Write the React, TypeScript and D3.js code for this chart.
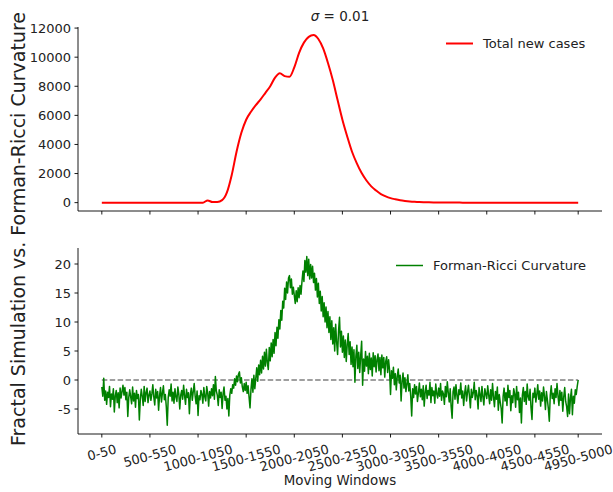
import React from "react";
import * as d3 from "d3";

const W = 613;
const H = 492;
const FONT = "DejaVu Sans, Verdana, sans-serif";
const INK = "#222";

// moving windows: index i covers [10i, 10i + 50]
const windowTicks = [0, 50, 100, 150, 200, 250, 300, 350, 400, 450, 495];
const windowLabel = (i: number) => `${i * 10}-${i * 10 + 50}`;

const caseTicks = [0, 2000, 4000, 6000, 8000, 10000, 12000];
const curvTicks = [-5, 0, 5, 10, 15, 20];

// total new cases, read every 5th window
const caseStep = 5;
const newCases = [
  0, 0, 0, 0, 0, 0, 0, 0, 0, 0, 0, 0, 0, 0, 0, 0, 0, 0, 0, 0, 0, 0,
  150, 40, 45, 170, 700, 1900, 3500, 4800, 5700, 6250, 6700, 7100, 7550, 8000,
  8600, 8900, 8700, 8650, 9300, 10300, 11000, 11400, 11520, 11250, 10600, 9600,
  8430, 7050, 5700, 4550, 3500, 2700, 2030, 1520, 1120, 830, 590, 430, 310, 230,
  165, 120, 85, 60, 42, 30, 20, 14, 10, 7, 5, 3, 2,
  0, 0, 0, 0, 0, 0, 0, 0, 0, 0, 0, 0, 0, 0, 0, 0, 0, 0, 0, 0, 0, 0, 0, 0, 0,
];

// Forman-Ricci curvature, one value per window
const curvA = [
  -1.2, -2.8, 0.3, -3.5, -1.9, -4.2, -2.1, -3.0, -1.1, -4.6,
  -2.4, -3.3, -1.5, -5.5, -2.7, -1.8, -3.9, -2.2, -4.8, -1.4,
  -3.1, -2.0, -0.9, -2.6, -1.3, -3.4, -2.1, -6.3, -3.0, -1.7,
  -2.9, -4.1, -1.2, -3.6, -2.3, -4.7, -1.8, -3.2, -2.5, -6.9,
  -3.3, -1.6, -2.8, -4.4, -1.1, -3.7, -2.2, -1.4, -3.9, -2.6,
];
const curvB = [
  -1.9, -3.5, -2.4, -0.8, -2.9, -4.3, -1.6, -3.1, -2.0, -5.2,
  -2.7, -1.3, -3.8, -2.2, -1.0, -3.4, -2.5, -4.6, -7.8, -3.0,
  -1.7, -2.8, -0.7, -3.6, -2.1, -4.0, -1.5, -2.9, -3.7, -1.2,
  -2.4, -5.0, -2.6, -1.8, -3.3, -0.9, -2.7, -4.2, -1.6, -3.0,
  -2.2, -5.8, -2.5, -1.4, -3.5, -2.0, -0.6, -2.8, -4.1, -1.9,
];
const curvC = [
  -6.1, -2.7, -3.4, -1.8, -2.5, -4.0, -1.3, -2.9, -3.6, -1.1,
  -2.2, -4.5, -2.0, -3.1, -1.5, -2.7, -0.8, -3.3, 0.6, -1.9,
  -2.6, -4.4, -1.7, -3.0, -2.1, -4.9, -2.4, -1.2, -3.5, -2.8,
  -5.0, -3.2, -6.2, -2.6, -1.5, -2.3, -0.8, -1.4, 0.2, -0.9,
  0.7, -0.3, 1.0, 1.4, -0.5, 0.4, -1.2, -2.0, -0.6, -1.8,
];
const curvD = [
  -0.4, -2.3, -1.0, -2.9, -4.8, -1.6, 0.2, -2.1, 0.8, -1.5,
  0.3, 2.1, -0.2, 2.6, 0.9, 3.4, 1.2, 4.1, 1.9, 4.8,
  2.4, 5.3, 3.0, 1.8, 5.6, 3.3, 6.4, 4.0, 7.0, 4.6,
  8.2, 5.9, 9.1, 7.2, 10.4, 8.8, 12.0, 10.3, 13.6, 12.4,
  15.8, 13.9, 16.9, 15.0, 17.6, 18.0, 15.9, 17.4, 14.8, 16.0,
];
const curvE = [
  14.6, 13.2, 15.4, 13.5, 15.9, 14.2, 16.3, 14.8, 17.0, 18.8,
  17.0, 20.6, 18.6, 21.3, 18.0, 20.8, 17.4, 19.9, 17.6, 19.6,
  16.8, 18.4, 15.5, 17.5, 14.3, 16.7, 13.2, 15.3, 11.9, 14.4,
  10.9, 13.3, 10.0, 12.6, 9.0, 11.8, 8.2, 10.9, 7.0, 10.2,
  6.2, 9.0, 5.0, 9.6, 6.5, 4.4, 8.5, 10.8, 5.7, 8.4,
];
const curvF = [
  4.8, 7.6, 3.9, 6.9, 3.2, 6.1, 8.0, 4.4, 6.6, 2.7,
  5.7, 2.3, 5.2, -0.4, 4.1, 6.0, 2.0, 4.8, 1.3, 4.2,
  6.7, -0.9, 3.6, 1.5, 4.9, 2.4, 4.1, 1.1, 4.6, 1.8,
  3.8, 0.7, 4.7, 2.3, 4.2, 1.4, 3.5, 4.5, 1.6, 3.9,
  0.9, 4.3, 2.1, 3.9, 0.5, 3.2, 4.0, 1.3, 3.5, 1.7,
];
const curvG = [
  -2.5, 1.6, 0.3, 2.2, -0.8, 1.1, -1.7, 0.6, 1.9, -0.5,
  0.8, -3.6, -0.2, 1.2, -1.4, 0.4, -2.0, -0.7, 0.9, -1.9,
  -0.6, -2.8, -6.2, -1.5, -3.0, -0.8, -2.4, -1.1, -3.7, -2.2,
  -0.5, -2.9, -1.6, -3.4, -1.0, -4.5, -2.1, -0.9, -3.2, -1.8,
  -2.6, -0.4, -3.9, -1.3, -2.7, -1.9, -4.0, -0.7, -2.4, -3.1,
];
const curvH = [
  -1.4, -2.8, -0.6, -3.5, -1.9, -2.4, -4.2, -1.1, -2.9, -0.3,
  -2.2, -3.8, -1.5, -4.6, -6.6, -2.0, -1.2, -3.3, -0.8, -2.6,
  -4.0, -1.7, -2.5, -0.5, -3.1, -1.9, -4.4, -2.3, -1.0, -3.6,
  -2.1, -0.9, -2.8, -4.8, -1.6, -3.0, -2.2, -0.4, -3.4, -1.8,
  -2.7, -5.0, -1.3, -2.5, -3.7, -1.1, -2.9, -4.3, -1.5, -2.4,
];
const curvI = [
  -3.2, -1.0, -2.6, -4.1, -1.7, -3.5, -0.6, -2.9, -4.6, -2.0,
  -3.3, -1.2, -5.2, -2.5, -3.8, -4.9, -7.4, -2.8, -1.4, -3.6,
  -2.2, -4.4, -0.9, -3.0, -1.8, -5.3, -2.7, -3.9, -1.5, -2.4,
  -4.7, -1.1, -3.4, -2.1, -5.6, -3.1, -7.4, -2.6, -1.3, -3.7,
  -2.0, -4.2, -0.7, -2.9, -3.5, -1.6, -4.8, -6.8, -2.3, -3.0,
];
const curvJ = [
  -1.4, -3.8, -2.5, -0.8, -3.3, -1.9, -4.5, -2.2, -3.6, -1.2,
  -2.8, -5.1, -2.0, -3.4, -4.9, -7.1, -2.6, -1.0, -3.2, -2.3,
  -4.1, -1.5, -3.0, -0.6, -2.7, -4.4, -1.8, -3.5, -2.1, -5.4,
  -2.9, -1.3, -3.7, -4.6, -6.3, -2.4, -5.8, -3.1, -1.6, -6.0,
  -2.8, -4.0, -1.7, -2.5, -1.1, 0.0,
];
const curvature = [
  ...curvA, ...curvB, ...curvC, ...curvD, ...curvE,
  ...curvF, ...curvG, ...curvH, ...curvI, ...curvJ,
];

const TICK_FS = 13;
// rough DejaVu Sans advance widths for the tick label glyphs
const labelWidth = (s: string) =>
  s.split("").reduce((w, c) => w + (c === "-" ? 0.361 : 0.636), 0) * TICK_FS;

export default function App() {
  const x = d3.scaleLinear().domain([-24.75, 519.75]).range([78, 602]);
  const yTop = d3.scaleLinear().domain([-575, 12075]).range([211, 27]);
  const yBot = d3.scaleLinear().domain([-9.31, 22.76]).range([434, 248]);

  const caseLine = d3
    .line<number>()
    .x((_, i) => x(i * caseStep))
    .y((d) => yTop(d))
    .curve(d3.curveMonotoneX);
  const curvLine = d3
    .line<number>()
    .x((_, i) => x(i))
    .y((d) => yBot(d));

  const [x0, x1] = x.range();
  const rot = (15 * Math.PI) / 180;

  const yAxis = (scale: d3.ScaleLinear<number, number>, ticks: number[]) => {
    const [b, t] = scale.range();
    return (
      <g>
        <line x1={x0} x2={x0} y1={b} y2={t} stroke="#000" strokeWidth={0.9} />
        {ticks.map((v) => (
          <g key={v} transform={`translate(${x0},${scale(v)})`}>
            <line x2={-3.5} stroke="#000" strokeWidth={0.9} />
            <text x={-7} dy="0.35em" textAnchor="end" fontSize={TICK_FS} fill={INK}>
              {v}
            </text>
          </g>
        ))}
      </g>
    );
  };

  const xAxis = (yPos: number, labels: boolean) => (
    <g>
      <line x1={x0} x2={x1} y1={yPos} y2={yPos} stroke="#000" strokeWidth={0.9} />
      {windowTicks.map((t) => {
        const s = windowLabel(t);
        const w = labelWidth(s);
        const h = w * Math.sin(rot) + TICK_FS * 1.16 * Math.cos(rot);
        return (
          <g key={t}>
            <line x1={x(t)} x2={x(t)} y1={yPos} y2={yPos + 3.5} stroke="#000" strokeWidth={0.9} />
            {labels && (
              <text
                transform={`translate(${x(t)},${yPos + 7.5 + h / 2}) rotate(-15)`}
                textAnchor="middle"
                dy="0.35em"
                fontSize={TICK_FS}
                fill={INK}
              >
                {s}
              </text>
            )}
          </g>
        );
      })}
    </g>
  );

  return (
    <svg
      width={W}
      height={H}
      style={{ position: "absolute", left: 0, top: 0, background: "#fff" }}
      fontFamily={FONT}
    >
      <text x={(x0 + x1) / 2} y={21} textAnchor="middle" fontSize={13.5} fill={INK}>
        <tspan fontStyle="italic">σ</tspan>
        {" = 0.01"}
      </text>

      {/* top panel: total new cases */}
      <path d={caseLine(newCases) ?? ""} fill="none" stroke="red" strokeWidth={2} />
      {yAxis(yTop, caseTicks)}
      {xAxis(211, false)}
      <line x1={446} x2={473} y1={43.5} y2={43.5} stroke="red" strokeWidth={2} />
      <text x={483} y={48} fontSize={13} fill={INK}>
        Total new cases
      </text>

      {/* bottom panel: curvature */}
      <line
        x1={x(0)}
        x2={x(curvature.length - 1)}
        y1={yBot(0)}
        y2={yBot(0)}
        stroke="#808080"
        strokeWidth={1.4}
        strokeDasharray="5.5,2.4"
      />
      <path
        d={curvLine(curvature) ?? ""}
        fill="none"
        stroke="green"
        strokeWidth={1.5}
        strokeLinejoin="round"
      />
      {yAxis(yBot, curvTicks)}
      {xAxis(434, true)}
      <line x1={396} x2={423} y1={265.5} y2={265.5} stroke="green" strokeWidth={1.5} />
      <text x={433} y={270} fontSize={13} fill={INK}>
        Forman-Ricci Curvature
      </text>

      <text x={(x0 + x1) / 2} y={485} textAnchor="middle" fontSize={13.4} fill={INK}>
        Moving Windows
      </text>
      <text
        transform="translate(18,229) rotate(-90)"
        textAnchor="middle"
        dy="0.35em"
        fontSize={19}
        fill={INK}
      >
        Fractal Simulation vs. Forman-Ricci Curvature
      </text>
    </svg>
  );
}
